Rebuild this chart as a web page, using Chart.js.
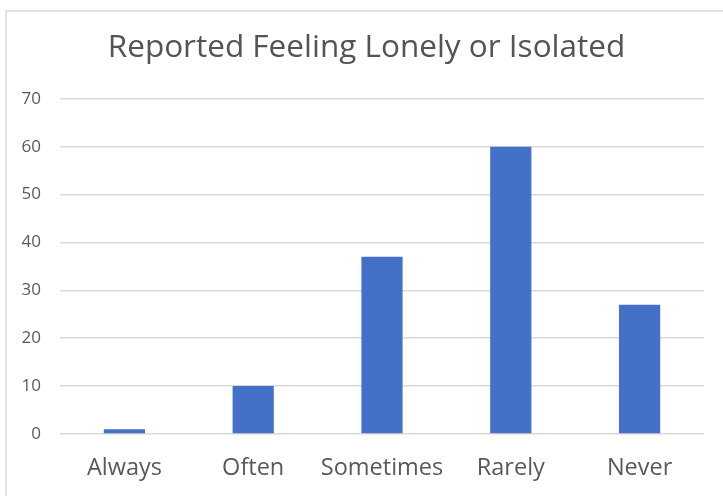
<!DOCTYPE html>
<html>
<head>
<meta charset="utf-8">
<script src="https://cdn.jsdelivr.net/npm/chart.js@4"></script>
<style>
  html, body { margin: 0; padding: 0; background: #fff; }
  #wrap { position: absolute; left: 0; top: 0; width: 723px; height: 496px; }
  #frame { position: absolute; left: 5px; top: 10px; width: 730px; height: 500px;
           border-left: 2px solid #e3e3e3; border-top: 2px solid #e3e3e3; }
  canvas { position: absolute; left: 0; top: 0; }
</style>
</head>
<body>
<div id="wrap">
  <div id="frame"></div>
  <canvas id="c" width="723" height="496"></canvas>
</div>
<script>
const categories = ["Always", "Often", "Sometimes", "Rarely", "Never"];
const values = [1, 10, 37, 60, 27];
const yTicks = [0, 10, 20, 30, 40, 50, 60, 70];
const titleText = "Reported Feeling Lonely or Isolated";

const FONT = "'Open Sans', sans-serif";
const TXT = "#595959";

// centre the title over a slightly right-shifted band, as in the reference
const titleShift = {
  id: "titleShift",
  afterLayout(chart) {
    const tb = chart.titleBlock;
    if (tb) { tb.left = 29; tb.right = 704; tb.width = tb.right - tb.left; }
  }
};

new Chart(document.getElementById("c"), {
  type: "bar",
  data: {
    labels: categories,
    datasets: [{
      data: values,
      backgroundColor: "#4370C8",
      borderWidth: 0,
      barPercentage: 0.64,
      categoryPercentage: 0.5
    }]
  },
  options: {
    responsive: false,
    animation: false,
    layout: { padding: { left: 0, right: 19, top: 0, bottom: 0 } },
    plugins: {
      legend: { display: false },
      tooltip: { enabled: false },
      title: {
        display: true,
        text: titleText,
        color: "#545454",
        font: { family: FONT, size: 31.5, weight: "normal" },
        padding: { top: 29, bottom: 32 }
      }
    },
    scales: {
      x: {
        grid: { display: false, drawTicks: false },
        border: { display: false },
        ticks: { color: TXT, font: { family: FONT, size: 23.5 }, padding: 20, maxRotation: 0 },
        afterFit: s => { s.height = 62; }
      },
      y: {
        min: 0, max: 70,
        afterBuildTicks: s => { s.ticks = yTicks.map(v => ({ value: v })); },
        grid: { color: "#d9d9d9", lineWidth: 1.5, drawTicks: false },
        border: { display: false },
        ticks: { color: TXT, font: { family: FONT, size: 17 }, padding: 19 },
        afterFit: s => { s.width = 60; }
      }
    }
  },
  plugins: [titleShift]
});
</script>
</body>
</html>
